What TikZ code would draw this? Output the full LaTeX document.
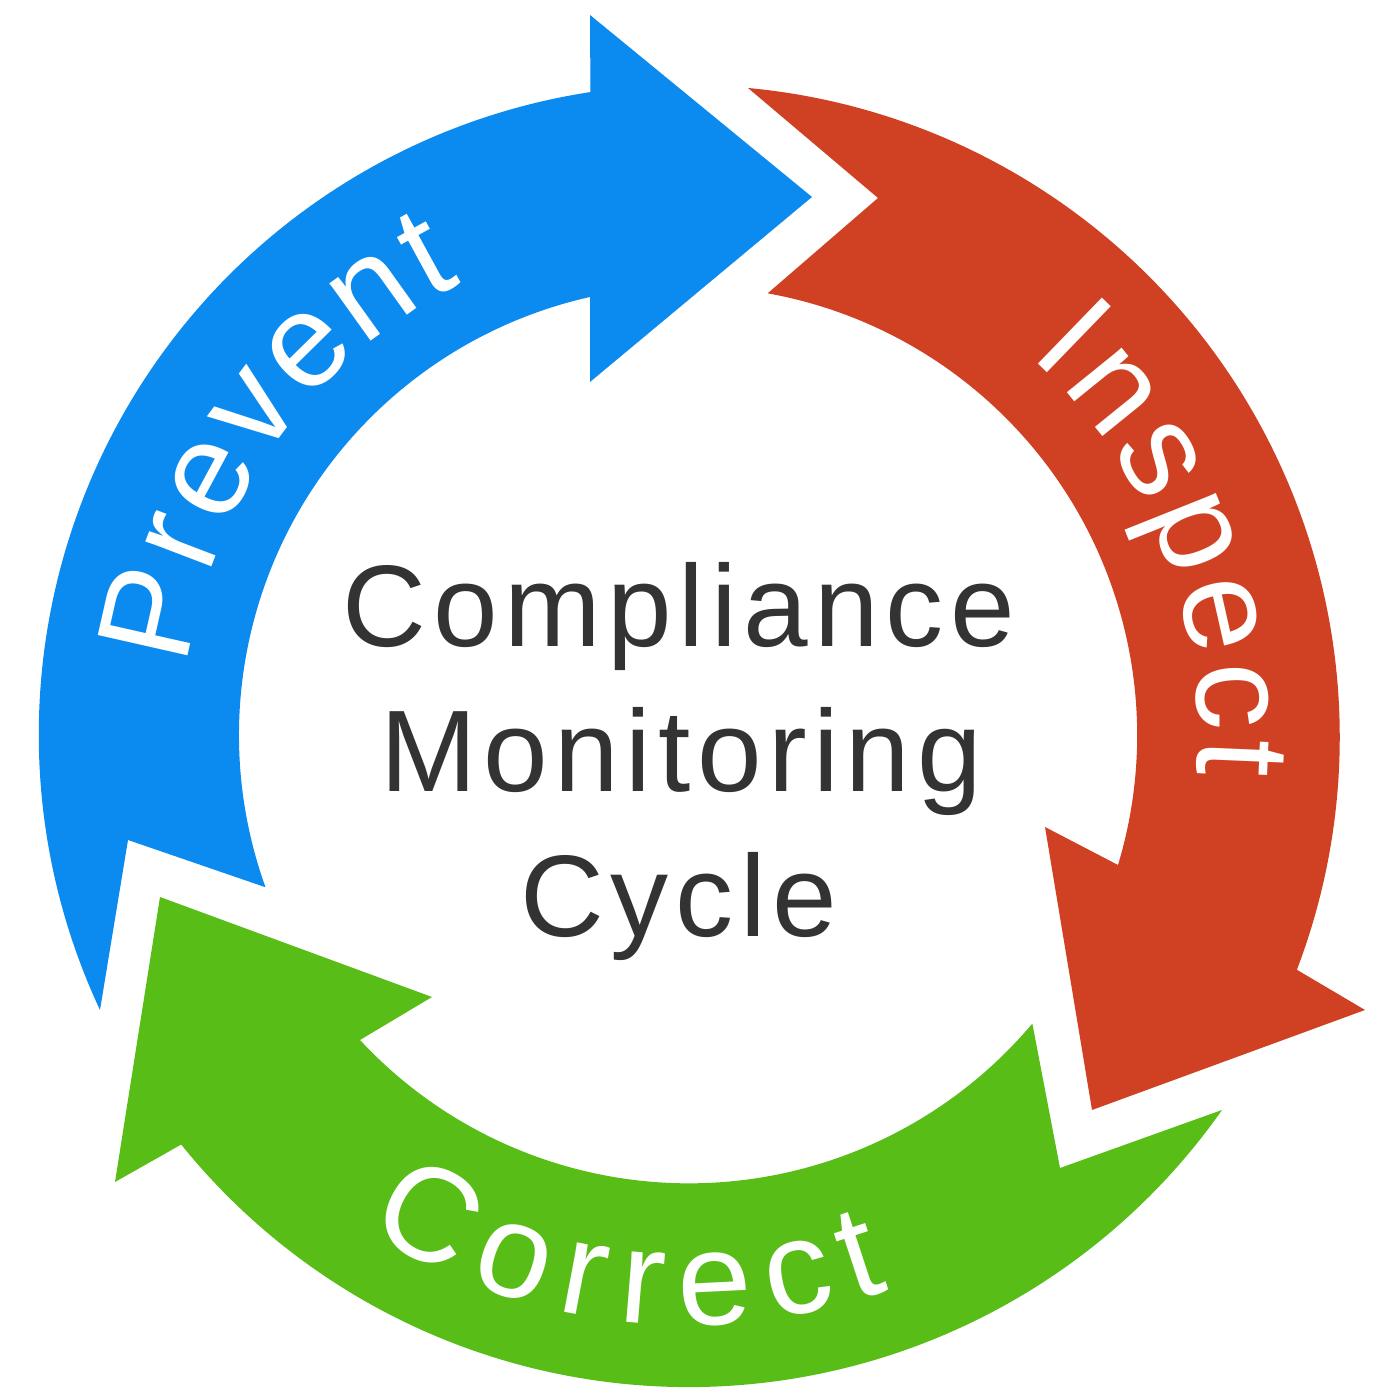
\documentclass[tikz,border=0pt]{standalone}
\usepackage{fontspec}
\setmainfont{Liberation Sans}
\newfontfamily\spaced[LetterSpace=5.7]{Liberation Sans}
\usetikzlibrary{decorations.text,calc}
\definecolor{bluearrow}{HTML}{0B8AEF}
\definecolor{redarrow}{HTML}{CF4122}
\definecolor{greenarrow}{HTML}{58BE17}
\definecolor{inktext}{HTML}{333333}
\tikzset{
  x=0.01cm,y=0.01cm,
  centertext/.style={text=inktext,font=\fontsize{33pt}{38pt}\selectfont\spaced,anchor=base,inner sep=0pt},
  ringtext/.style={decorate,decoration={text along path,text align={fit to path},
    text color=white,text={|\fontsize{38pt}{44pt}\selectfont|#1}}}
}
\begin{document}
\begin{tikzpicture}
\useasboundingbox (0,0) rectangle (1400,1400);
\fill[white] (0,0) rectangle (1400,1400);
\coordinate (c) at (688,665);
% blue
\fill[bluearrow] (100,390) arc[start angle=205.07,end angle=98.7,radius=650]
  -- (590,1385) -- (812,1203) -- (590,1018) -- (590,1103)
  arc[start angle=102.6,end angle=199.8,radius=449]
  -- (128,560) -- cycle;
% red
\fill[redarrow] (748,1312) arc[start angle=84.7,end angle=-20.9,radius=652]
  -- (1365,390) -- (1092,290) -- (1045,573) -- (1118,535)
  arc[start angle=-16.8,end angle=79.8,radius=449]
  -- (878,1202) -- cycle;
% green
\fill[greenarrow] (1222,290) arc[start angle=-35.1,end angle=-141.1,radius=652]
  -- (115,218) -- (160,503) -- (432,403) -- (360,360)
  arc[start angle=222.9,end angle=319.9,radius=449]
  -- (1060,232) -- cycle;
% ring labels
\path[ringtext={Prevent}] ($(c)+(172.3:505)$) arc[start angle=172.3,end angle=116.6,radius=505];
\path[ringtext={Inspect}] ($(c)+(48:510)$) arc[start angle=48,end angle=-4.5,radius=510];
\path[ringtext={Correct}] ($(c)+(237:590)$) arc[start angle=237,end angle=290,radius=590];
% centre
\node[centertext] (t1) at (679,753) {Compliance};
\node[centertext] (t2) at (681,608) {Monitoring};
\node[centertext] (t3) at (679,463) {Cycle};
\end{tikzpicture}
\end{document}
